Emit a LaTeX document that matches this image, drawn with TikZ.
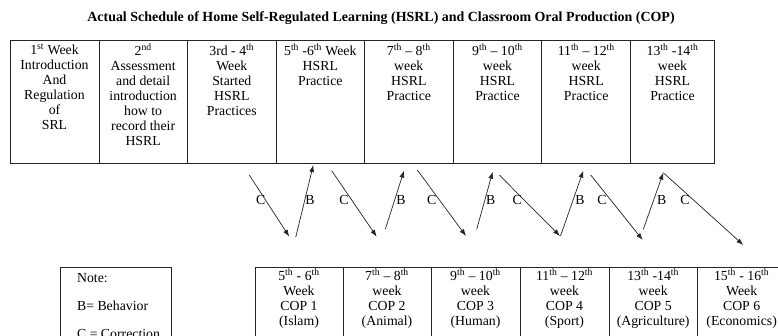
\documentclass[tikz,border=0pt]{standalone}
\usepackage{fontspec}
\setmainfont{Liberation Serif}
\usetikzlibrary{arrows.meta}
\begin{document}
\begin{tikzpicture}[x=1pt,y=-1pt,
  cell/.style={draw=black!85, line width=0.8pt, inner sep=0pt, minimum height=122.3pt},
  lowcell/.style={draw=black!85, line width=0.8pt, inner sep=0pt, minimum height=112.7pt},
  celltext/.style={anchor=north, align=center, inner sep=0pt, font=\fontsize{13.8}{15}\selectfont},
  lbl/.style={inner sep=0pt, font=\fontsize{13.8}{15}\selectfont},
  arr/.style={draw=black!85, line width=0.7pt, -{Latex[length=7pt,width=5pt]}},
  ttl/.style={inner sep=0pt, font=\fontsize{13.95}{15}\selectfont\bfseries}]
\useasboundingbox (0,0) rectangle (778,336);
\clip (0,0) rectangle (778,336);
\fill[white] (0,0) rectangle (778,336);
% title
\node[ttl] (title) at (381,18.5) {Actual Schedule of Home Self-Regulated Learning (HSRL) and Classroom Oral Production (COP)};
% top table
\node[cell, minimum width=89pt]   (h1) at (54.5,101.85) {};
\node[cell, minimum width=88.3pt] (h2) at (143.15,101.85) {};
\node[cell, minimum width=89pt]   (h3) at (231.8,101.85) {};
\node[cell, minimum width=88pt]   (h4) at (320.3,101.85) {};
\node[cell, minimum width=89pt]   (h5) at (408.8,101.85) {};
\node[cell, minimum width=88.4pt] (h6) at (497.5,101.85) {};
\node[cell, minimum width=89pt]   (h7) at (586.2,101.85) {};
\node[cell, minimum width=83.6pt] (h8) at (672.5,101.85) {};
\node[celltext] (h1t) at ([yshift=-3.5pt]h1.north) {1\textsuperscript{st} Week\\Introduction\\And\\Regulation\\of\\SRL};
\node[celltext] (h2t) at ([yshift=-3.5pt]h2.north) {2\textsuperscript{nd}\\Assessment\\and detail\\introduction\\how to\\record their\\HSRL};
\node[celltext] (h3t) at ([yshift=-3.5pt]h3.north) {3rd - 4\textsuperscript{th}\\Week\\Started\\HSRL\\Practices};
\node[celltext] (h4t) at ([yshift=-3.5pt]h4.north) {5\textsuperscript{th} -6\textsuperscript{th} Week\\HSRL\\Practice};
\node[celltext] (h5t) at ([yshift=-3.5pt]h5.north) {7\textsuperscript{th} – 8\textsuperscript{th}\\week\\HSRL\\Practice};
\node[celltext] (h6t) at ([yshift=-3.5pt]h6.north) {9\textsuperscript{th} – 10\textsuperscript{th}\\week\\HSRL\\Practice};
\node[celltext] (h7t) at ([yshift=-3.5pt]h7.north) {11\textsuperscript{th} – 12\textsuperscript{th}\\week\\HSRL\\Practice};
\node[celltext] (h8t) at ([yshift=-3.5pt]h8.north) {13\textsuperscript{th} -14\textsuperscript{th}\\week\\HSRL\\Practice};
% bottom table
\node[lowcell, minimum width=88pt]   (c1) at (299,323.65) {};
\node[lowcell, minimum width=88pt]   (c2) at (387,323.65) {};
\node[lowcell, minimum width=89pt]   (c3) at (475.5,323.65) {};
\node[lowcell, minimum width=89pt]   (c4) at (564.5,323.65) {};
\node[lowcell, minimum width=88.3pt] (c5) at (653.15,323.65) {};
\node[lowcell, minimum width=88.7pt] (c6) at (741.65,323.65) {};
\node[celltext] (c1t) at ([yshift=-1.5pt]c1.north) {5\textsuperscript{th} - 6\textsuperscript{th}\\Week\\COP 1\\(Islam)};
\node[celltext] (c2t) at ([yshift=-1.5pt]c2.north) {7\textsuperscript{th} – 8\textsuperscript{th}\\week\\COP 2\\(Animal)};
\node[celltext] (c3t) at ([yshift=-1.5pt]c3.north) {9\textsuperscript{th} – 10\textsuperscript{th}\\week\\COP 3\\(Human)};
\node[celltext] (c4t) at ([yshift=-1.5pt]c4.north) {11\textsuperscript{th} – 12\textsuperscript{th}\\week\\COP 4\\(Sport)};
\node[celltext] (c5t) at ([yshift=-1.5pt]c5.north) {13\textsuperscript{th} -14\textsuperscript{th}\\week\\COP 5\\(Agriculture)};
\node[celltext] (c6t) at ([yshift=-1.5pt]c6.north) {15\textsuperscript{th} - 16\textsuperscript{th}\\Week\\COP 6\\(Economics)};
% note box
\node[lowcell, minimum width=111.4pt] (note) at (116,323.65) {};
\node[anchor=north west, align=left, inner sep=0pt, font=\fontsize{13.8}{28}\selectfont] (notet) at ([xshift=17pt,yshift=-6pt]note.north west) {Note:\\B= Behavior\\C = Correction};
% arrow end points
\coordinate (a1s) at (249.3,175);   \coordinate (a1e) at (289.3,236.7);
\coordinate (b1s) at (295.7,237.3); \coordinate (b1e) at (313.3,165);
\coordinate (a2s) at (331.7,170.7); \coordinate (a2e) at (376.7,236.7);
\coordinate (b2s) at (385.3,229.3); \coordinate (b2e) at (404,170.7);
\coordinate (a3s) at (417.3,170);   \coordinate (a3e) at (466,236);
\coordinate (b3s) at (476.7,229.3); \coordinate (b3e) at (492.7,171.7);
\coordinate (a4s) at (499.3,175);   \coordinate (a4e) at (560,236);
\coordinate (b4s) at (560.5,236);   \coordinate (b4e) at (583.3,170.7);
\coordinate (a5s) at (590.7,175);   \coordinate (a5e) at (642.7,240);
\coordinate (b5s) at (643.3,229.3); \coordinate (b5e) at (663.3,172.7);
\coordinate (a6s) at (663.3,172.7); \coordinate (a6e) at (743.3,245);
\foreach \n in {1,...,6} {\draw[arr] (a\n s) -- (a\n e);}
\foreach \n in {1,...,5} {\draw[arr] (b\n s) -- (b\n e);}
% labels
\node[lbl] (lc1) at (260.7,200) {C};
\node[lbl] (lb1) at (310,200) {B};
\node[lbl] (lc2) at (344,200) {C};
\node[lbl] (lb2) at (401,200) {B};
\node[lbl] (lc3) at (431.7,200) {C};
\node[lbl] (lb3) at (490.7,200) {B};
\node[lbl] (lc4) at (517.3,200) {C};
\node[lbl] (lb4) at (580,200) {B};
\node[lbl] (lc5) at (602,200) {C};
\node[lbl] (lb5) at (661.7,200) {B};
\node[lbl] (lc6) at (685,200) {C};
\end{tikzpicture}
\end{document}
